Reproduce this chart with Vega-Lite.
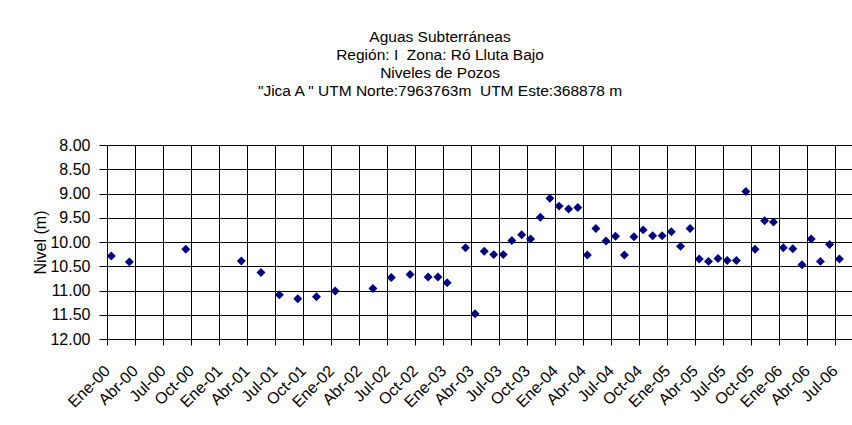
{
  "$schema": "https://vega.github.io/schema/vega-lite/v6.json",
  "width": 745,
  "height": 194,
  "autosize": {"type": "none"},
  "padding": {"left": 107, "top": 145, "right": 0, "bottom": 86},
  "background": "white",
  "title": {
    "text": ["Aguas Subterráneas", "Región: I \u00a0Zona: Ró Lluta Bajo", "Niveles de Pozos", "\"Jica A \" UTM Norte:7963763m \u00a0UTM Este:368878 m"],
    "anchor": "middle",
    "frame": "group",
    "font": "Liberation Sans",
    "fontSize": 15.5,
    "fontWeight": "normal",
    "color": "#000000",
    "lineHeight": 18,
    "baseline": "alphabetic",
    "offset": 26,
    "dx": -39.5
  },
  "config": {
    "view": {"stroke": null},
    "axis": {
      "labelFont": "Liberation Sans",
      "titleFont": "Liberation Sans",
      "labelColor": "#000000",
      "titleColor": "#000000",
      "domainColor": "#000000",
      "tickColor": "#000000",
      "gridColor": "#000000",
      "gridOpacity": 1,
      "gridWidth": 1,
      "labelFontSize": 16,
      "titleFontSize": 16,
      "titleFontWeight": "normal",
      "labelFlush": false,
      "labelOverlap": false
    }
  },
  "data": {
    "values": [
      {"fecha": "2000-01-15", "nivel": 10.29},
      {"fecha": "2000-03-14", "nivel": 10.41},
      {"fecha": "2000-09-14", "nivel": 10.15},
      {"fecha": "2001-03-14", "nivel": 10.39},
      {"fecha": "2001-05-17", "nivel": 10.63},
      {"fecha": "2001-07-16", "nivel": 11.09},
      {"fecha": "2001-09-14", "nivel": 11.17},
      {"fecha": "2001-11-14", "nivel": 11.13},
      {"fecha": "2002-01-14", "nivel": 11.01},
      {"fecha": "2002-05-17", "nivel": 10.96},
      {"fecha": "2002-07-16", "nivel": 10.73},
      {"fecha": "2002-09-15", "nivel": 10.67},
      {"fecha": "2002-11-13", "nivel": 10.72},
      {"fecha": "2002-12-15", "nivel": 10.72},
      {"fecha": "2003-01-14", "nivel": 10.84},
      {"fecha": "2003-03-15", "nivel": 10.12},
      {"fecha": "2003-04-15", "nivel": 11.48},
      {"fecha": "2003-05-15", "nivel": 10.19},
      {"fecha": "2003-06-15", "nivel": 10.26},
      {"fecha": "2003-07-16", "nivel": 10.26},
      {"fecha": "2003-08-13", "nivel": 9.97},
      {"fecha": "2003-09-14", "nivel": 9.85},
      {"fecha": "2003-10-13", "nivel": 9.94},
      {"fecha": "2003-11-14", "nivel": 9.49},
      {"fecha": "2003-12-15", "nivel": 9.10},
      {"fecha": "2004-01-14", "nivel": 9.26},
      {"fecha": "2004-02-14", "nivel": 9.32},
      {"fecha": "2004-03-15", "nivel": 9.29},
      {"fecha": "2004-04-15", "nivel": 10.27},
      {"fecha": "2004-05-13", "nivel": 9.72},
      {"fecha": "2004-06-15", "nivel": 9.98},
      {"fecha": "2004-07-16", "nivel": 9.88},
      {"fecha": "2004-08-14", "nivel": 10.27},
      {"fecha": "2004-09-14", "nivel": 9.89},
      {"fecha": "2004-10-14", "nivel": 9.75},
      {"fecha": "2004-11-14", "nivel": 9.87},
      {"fecha": "2004-12-15", "nivel": 9.87},
      {"fecha": "2005-01-14", "nivel": 9.79},
      {"fecha": "2005-02-13", "nivel": 10.09},
      {"fecha": "2005-03-16", "nivel": 9.72},
      {"fecha": "2005-04-15", "nivel": 10.35},
      {"fecha": "2005-05-15", "nivel": 10.40},
      {"fecha": "2005-06-15", "nivel": 10.34},
      {"fecha": "2005-07-15", "nivel": 10.38},
      {"fecha": "2005-08-14", "nivel": 10.38},
      {"fecha": "2005-09-14", "nivel": 8.96},
      {"fecha": "2005-10-14", "nivel": 10.15},
      {"fecha": "2005-11-14", "nivel": 9.56},
      {"fecha": "2005-12-13", "nivel": 9.59},
      {"fecha": "2006-01-14", "nivel": 10.12},
      {"fecha": "2006-02-14", "nivel": 10.14},
      {"fecha": "2006-03-16", "nivel": 10.47},
      {"fecha": "2006-04-15", "nivel": 9.94},
      {"fecha": "2006-05-15", "nivel": 10.40},
      {"fecha": "2006-06-14", "nivel": 10.05},
      {"fecha": "2006-07-16", "nivel": 10.35}
    ]
  },
  "mark": {"type": "point", "shape": "diamond", "filled": true, "size": 80, "color": "#000080", "opacity": 1},
  "encoding": {
    "x": {
      "field": "fecha",
      "type": "temporal",
      "scale": {
        "type": "utc",
        "domain": [
          {"year": 2000, "month": 1, "date": 1, "utc": true},
          {"year": 2006, "month": 8, "date": 26, "utc": true}
        ],
        "nice": false
      },
      "axis": {
        "title": null,
        "tickCount": {"interval": "month", "step": 3},
        "labelExpr": "['Ene','Feb','Mar','Abr','May','Jun','Jul','Ago','Sep','Oct','Nov','Dic'][utcmonth(datum.value)] + '-' + utcFormat(datum.value, '%y')",
        "labelAngle": -45,
        "labelAlign": "right",
        "labelBaseline": "middle",
        "labelPadding": 23,
        "tickSize": 6,
        "grid": true
      }
    },
    "y": {
      "field": "nivel",
      "type": "quantitative",
      "scale": {"domain": [8, 12], "reverse": true, "nice": false, "zero": false},
      "axis": {
        "title": "Nivel (m)",
        "values": [8, 8.5, 9, 9.5, 10, 10.5, 11, 11.5, 12],
        "format": ".2f",
        "grid": true,
        "tickSize": 8,
        "labelPadding": 9,
        "titlePadding": 1
      }
    }
  }
}
